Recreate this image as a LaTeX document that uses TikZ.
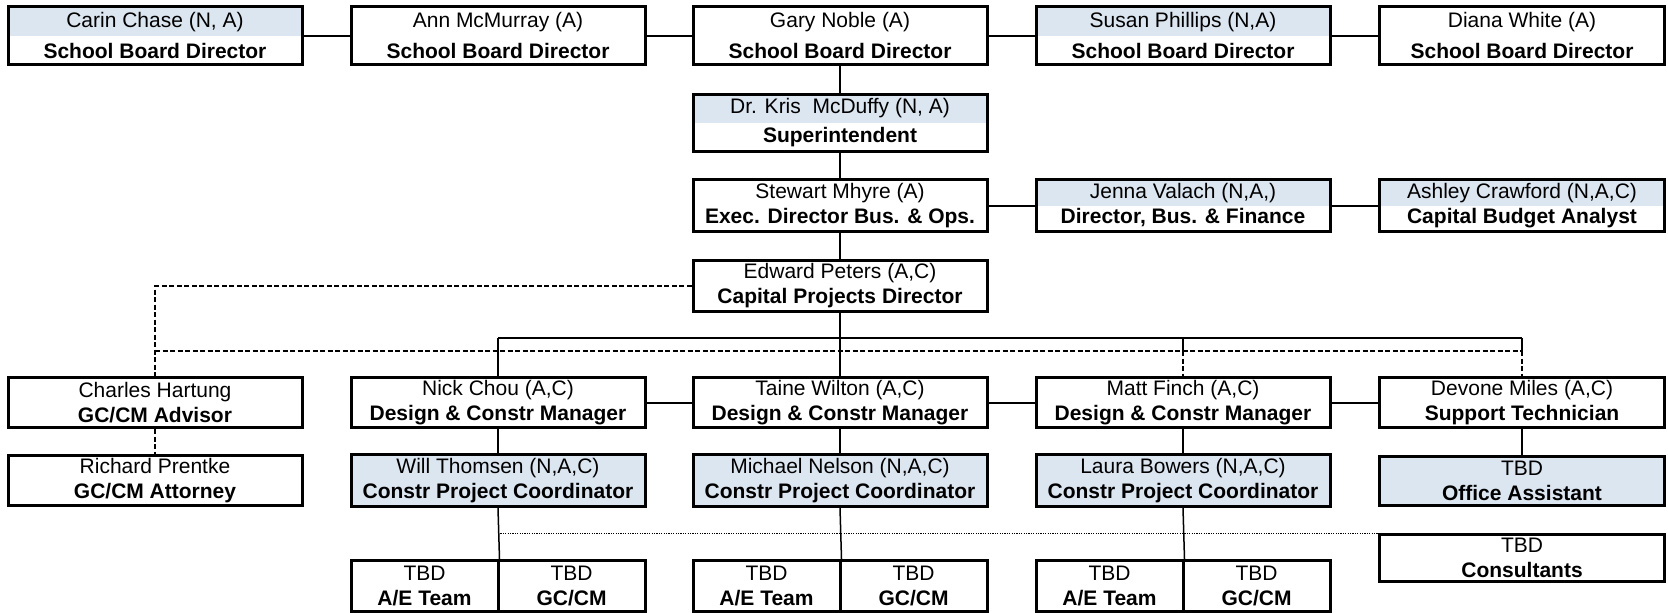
\documentclass[tikz,border=0pt]{standalone}
\usepackage{fontspec}
\setmainfont{Liberation Sans}
\definecolor{shadeblue}{RGB}{220,230,241}
\tikzset{
  pbox/.style={draw, line width=3pt, fill=white, inner sep=0pt, align=center,
    font=\fontsize{21}{25}\selectfont, minimum width=294pt},
  narrowbox/.style={minimum width=285pt},
  teambox/.style={minimum width=147pt, minimum height=51pt},
  widespace/.style={font=\fontsize{21}{31}\selectfont},
  kspace/.style={font=\fontsize{21}{29}\selectfont},
  tophalf/.style={path picture={\fill[shadeblue] (path picture bounding box.north west) rectangle (path picture bounding box.east);}},
  fullshade/.style={fill=shadeblue},
  sib/.style={line width=2pt},
  vert/.style={line width=1.5pt},
  dashlink/.style={line width=1.5pt, dash pattern=on 5pt off 2.5pt},
  dotlink/.style={line width=1pt, dash pattern=on 1.2pt off 1.2pt},
}
\begin{document}
\begin{tikzpicture}[x=1pt,y=-1pt]
\useasboundingbox (0,0) rectangle (1668,613);
% Row 1: board
\node[pbox, widespace, tophalf, minimum height=58pt] (carin) at (155,35.5) {Carin Chase (N, A)\\\textbf{School Board Director}};
\node[pbox, widespace, minimum height=58pt] (ann) at (498,35.5) {Ann McMurray (A)\\\textbf{School Board Director}};
\node[pbox, widespace, minimum height=58pt] (gary) at (840,35.5) {Gary Noble (A)\\\textbf{School Board Director}};
\node[pbox, widespace, tophalf, minimum height=58pt] (susan) at (1183,35.5) {Susan Phillips (N,A)\\\textbf{School Board Director}};
\node[pbox, widespace, narrowbox, minimum height=58pt] (diana) at (1522,35.5) {Diana White (A)\\\textbf{School Board Director}};
% Superintendent
\node[pbox, kspace, tophalf, minimum height=57pt] (kris) at (840,123) {Dr. Kris\ \ McDuffy (N, A)\\\textbf{Superintendent}};
% Row 3
\node[pbox, minimum height=52pt] (stewart) at (840,205.5) {Stewart Mhyre (A)\\\textbf{Exec. Director Bus. \& Ops.}};
\node[pbox, tophalf, minimum height=52pt] (jenna) at (1183,205.5) {Jenna Valach (N,A,)\\\textbf{Director, Bus. \& Finance}};
\node[pbox, tophalf, narrowbox, minimum height=52pt] (ashley) at (1522,205.5) {Ashley Crawford (N,A,C)\\\textbf{Capital Budget Analyst}};
% Row 4
\node[pbox, minimum height=51pt] (edward) at (840,286) {Edward Peters (A,C)\\\textbf{Capital Projects Director}};
% Row 5
\node[pbox, minimum height=50pt] (charles) at (155,402.5) {Charles Hartung\\\textbf{GC/CM Advisor}};
\node[pbox, minimum height=50pt] (nick) at (498,402.5) {Nick Chou (A,C)\\\textbf{Design \& Constr Manager}};
\node[pbox, minimum height=50pt] (taine) at (840,402.5) {Taine Wilton (A,C)\\\textbf{Design \& Constr Manager}};
\node[pbox, minimum height=50pt] (matt) at (1183,402.5) {Matt Finch (A,C)\\\textbf{Design \& Constr Manager}};
\node[pbox, narrowbox, minimum height=50pt] (devone) at (1522,402.5) {Devone Miles (A,C)\\\textbf{Support Technician}};
% Row 6
\node[pbox, minimum height=50pt] (richard) at (155,480.5) {Richard Prentke\\\textbf{GC/CM Attorney}};
\node[pbox, fullshade, minimum height=52pt] (will) at (498,480.5) {Will Thomsen (N,A,C)\\\textbf{Constr Project Coordinator}};
\node[pbox, fullshade, minimum height=52pt] (michael) at (840,480.5) {Michael Nelson (N,A,C)\\\textbf{Constr Project Coordinator}};
\node[pbox, fullshade, minimum height=52pt] (laura) at (1183,480.5) {Laura Bowers (N,A,C)\\\textbf{Constr Project Coordinator}};
\node[pbox, fullshade, narrowbox, minimum height=49pt] (office) at (1522,481) {TBD\\\textbf{Office Assistant}};
% Consultants
\node[pbox, narrowbox, minimum height=47pt] (cons) at (1522,558) {TBD\\\textbf{Consultants}};
% Row 7 teams
\node[pbox, teambox] (ae1) at (424.5,586) {TBD\\\textbf{A/E Team}};
\node[pbox, teambox] (gc1) at (571.5,586) {TBD\\\textbf{GC/CM}};
\node[pbox, teambox] (ae2) at (766.5,586) {TBD\\\textbf{A/E Team}};
\node[pbox, teambox] (gc2) at (913.5,586) {TBD\\\textbf{GC/CM}};
\node[pbox, teambox] (ae3) at (1109.5,586) {TBD\\\textbf{A/E Team}};
\node[pbox, teambox] (gc3) at (1256.5,586) {TBD\\\textbf{GC/CM}};
% helper coordinates
\coordinate (hub) at (840,338);
\coordinate (dhub) at (840,351);
% Board connectors
\draw[sib] (carin.east) -- (ann.west);
\draw[sib] (ann.east) -- (gary.west);
\draw[sib] (gary.east) -- (susan.west);
\draw[sib] (susan.east) -- (diana.west);
\draw[vert] (gary.south) -- (kris.north);
\draw[vert] (kris.south) -- (stewart.north);
\draw[sib] (stewart.east) -- (jenna.west);
\draw[sib] (jenna.east) -- (ashley.west);
\draw[vert] (stewart.south) -- (edward.north);
\draw[vert] (edward.south) -- (taine.north);
% Solid tree under Edward
\draw[vert] (nick.north |- hub) -- (devone.north |- hub);
\draw[vert] (nick.north |- hub) -- (nick.north);
\draw[vert] (matt.north |- hub) -- (matt.north |- dhub);
\draw[vert] (devone.north |- hub) -- (devone.north |- dhub);
% Dashed links
\draw[dashlink] (edward.west) -| (charles.north);
\draw[dashlink] (charles.north |- dhub) -- (devone.north |- dhub);
\draw[dashlink] (matt.north |- dhub) -- (matt.north);
\draw[dashlink] (devone.north |- dhub) -- (devone.north);
\draw[dashlink] (charles.south) -- (richard.north);
% Managers row
\draw[sib] (nick.east) -- (taine.west);
\draw[sib] (taine.east) -- (matt.west);
\draw[sib] (matt.east) -- (devone.west);
\draw[vert] (nick.south) -- (will.north);
\draw[vert] (taine.south) -- (michael.north);
\draw[vert] (matt.south) -- (laura.north);
\draw[vert] (devone.south) -- (office.north);
\draw[vert] (will.south) -- (ae1.north east);
\draw[vert] (michael.south) -- (ae2.north east);
\draw[vert] (laura.south) -- (ae3.north east);
% Dotted link to consultants
\draw[dotlink] (will.south |- cons.north west) -- (cons.north west);
\end{tikzpicture}
\end{document}
